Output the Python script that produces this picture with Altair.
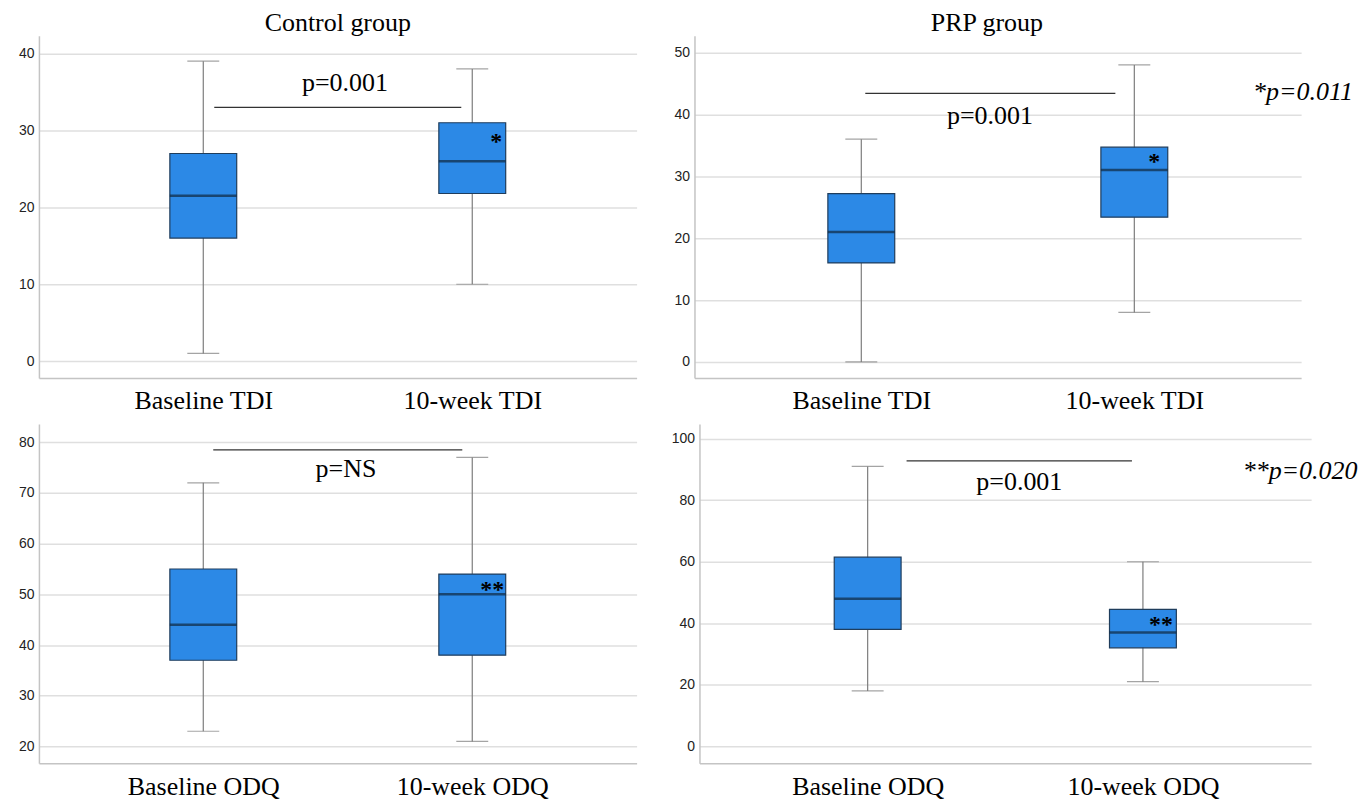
import altair as alt
import pandas as pd

# ---------------- data ----------------
CTRL_TDI_CATS = ["Baseline TDI", "10-week TDI"]
CTRL_TDI_MIN = [1, 10]
CTRL_TDI_Q1 = [16, 21.8]
CTRL_TDI_MED = [21.5, 26]
CTRL_TDI_Q3 = [27, 31]
CTRL_TDI_MAX = [39, 38]

PRP_TDI_CATS = ["Baseline TDI", "10-week TDI"]
PRP_TDI_MIN = [0, 8]
PRP_TDI_Q1 = [16, 23.4]
PRP_TDI_MED = [21, 31]
PRP_TDI_Q3 = [27.2, 34.7]
PRP_TDI_MAX = [36, 48]

CTRL_ODQ_CATS = ["Baseline ODQ", "10-week ODQ"]
CTRL_ODQ_MIN = [23, 21]
CTRL_ODQ_Q1 = [37, 38]
CTRL_ODQ_MED = [44, 50]
CTRL_ODQ_Q3 = [55, 54]
CTRL_ODQ_MAX = [72, 77]

PRP_ODQ_CATS = ["Baseline ODQ", "10-week ODQ"]
PRP_ODQ_MIN = [18, 21]
PRP_ODQ_Q1 = [38, 32]
PRP_ODQ_MED = [48, 37]
PRP_ODQ_Q3 = [61.5, 44.5]
PRP_ODQ_MAX = [91, 60]

PANEL_TITLES = ["Control group", "PRP group", "", ""]
P_LABELS = ["p=0.001", "p=0.001", "p=NS", "p=0.001"]
P_LINE_Y = [33, 43.4, 78.5, 92.8]
P_LABEL_Y = [36.1, 39.7, 74.7, 85.8]
STAR_LABELS = ["*", "*", "**", "**"]
STAR_Y = [29.1, 33.1, 51.8, 41]
SIDE_LABELS = ["", "*p=0.011", "", "**p=0.020"]
SIDE_Y = [0, 43.6, 0, 89.6]

Y_TICKS = [
    [0, 10, 20, 30, 40],
    [0, 10, 20, 30, 40, 50],
    [20, 30, 40, 50, 60, 70, 80],
    [0, 20, 40, 60, 80, 100],
]
Y_DOMAINS = [[-2.2, 42.3], [-2.6, 52.7], [16.7, 83.6], [-5.5, 104.8]]

# ---------------- styling ----------------
SERIF = "Liberation Serif"
SANS = "Liberation Sans"
BOX_FILL = "#2c89e6"
BOX_STROKE = "#1f3d5c"
MEDIAN = "#10283f"
WHISKER = "#7d7d7d"
AXIS_LINE = "#c4c4c4"
GRID = "#dfdfdf"

# per panel layout: width, height, y-axis extent, pline offsets, text dx, title dx
LAYOUT = [
    dict(w=599, h=343, ext=26, xo=11, x2o=-11, pdx=142, sdx=24, sidedx=0, tdx=0),
    dict(w=608, h=343, ext=24, xo=4, x2o=-19, pdx=129, sdx=20, sidedx=119, tdx=-11),
    dict(w=599, h=340, ext=26, xo=10, x2o=-10, pdx=143, sdx=20, sidedx=0, tdx=0),
    dict(w=613, h=340, ext=23, xo=39, x2o=-11, pdx=152, sdx=18, sidedx=100, tdx=0),
]


def panel(i, cats, mn, q1, med, q3, mx):
    L = LAYOUT[i]
    df = pd.DataFrame({"cat": cats, "mn": mn, "q1": q1, "med": med, "q3": q3, "mx": mx})
    xscale = alt.Scale(type="point", padding=0.611, domain=cats)
    xaxis = alt.Axis(title=None, labelAngle=0, labelFont=SERIF, labelFontSize=26,
                     labelColor="black", labelPadding=10, ticks=False, domainColor=AXIS_LINE,
                     domainWidth=1.5, grid=False)
    yscale = alt.Scale(domain=Y_DOMAINS[i], nice=False, zero=False)
    yaxis = alt.Axis(title=None, values=Y_TICKS[i], labelFont=SANS, labelFontSize=14,
                     labelColor="#222222", ticks=False, tickSize=0, labelPadding=5,
                     domainColor=AXIS_LINE, domainWidth=1.5, gridColor=GRID, gridWidth=1.5,
                     minExtent=L["ext"], maxExtent=L["ext"])

    def X(f):
        return alt.X(f, scale=xscale, axis=xaxis)

    def Y(f):
        return alt.Y(f, scale=yscale, axis=yaxis)

    base = alt.Chart(df)
    whisk = base.mark_rule(color=WHISKER, strokeWidth=1.2).encode(
        x=X("cat:N"), y=Y("mn:Q"), y2="mx:Q")
    cap_lo = base.mark_tick(size=32, thickness=1.2, color=WHISKER).encode(
        x=X("cat:N"), y=Y("mn:Q"))
    cap_hi = base.mark_tick(size=32, thickness=1.2, color=WHISKER).encode(
        x=X("cat:N"), y=Y("mx:Q"))
    box = base.mark_bar(size=67, fill=BOX_FILL, stroke=BOX_STROKE, strokeWidth=1.2).encode(
        x=X("cat:N"), y=Y("q1:Q"), y2="q3:Q")
    medl = base.mark_tick(size=67, thickness=2.5, color=MEDIAN).encode(
        x=X("cat:N"), y=Y("med:Q"))

    ann = pd.DataFrame({
        "a": [cats[0]], "b": [cats[1]],
        "ly": [P_LINE_Y[i]], "ty": [P_LABEL_Y[i]], "plab": [P_LABELS[i]],
        "sy": [STAR_Y[i]], "slab": [STAR_LABELS[i]],
        "sidey": [SIDE_Y[i]], "sidelab": [SIDE_LABELS[i]],
    })
    abase = alt.Chart(ann)
    pline = abase.mark_rule(color="#333333", strokeWidth=1.3, xOffset=L["xo"],
                            x2Offset=L["x2o"]).encode(
        x=X("a:N"), x2="b:N", y=Y("ly:Q"))
    ptext = abase.mark_text(font=SERIF, fontSize=26, color="black", baseline="middle",
                            align="center", dx=L["pdx"]).encode(
        x=X("a:N"), y=Y("ty:Q"), text="plab:N")
    star = abase.mark_text(font=SERIF, fontSize=24, fontWeight="bold", color="black",
                           baseline="middle", align="center", dx=L["sdx"], dy=5).encode(
        x=X("b:N"), y=Y("sy:Q"), text="slab:N")
    layers = [whisk, cap_lo, cap_hi, box, medl, pline, ptext, star]
    if SIDE_LABELS[i]:
        side = abase.mark_text(font=SERIF, fontSize=26, fontStyle="italic", color="black",
                               baseline="middle", align="left", dx=L["sidedx"]).encode(
            x=X("b:N"), y=Y("sidey:Q"), text="sidelab:N")
        layers.append(side)
    ch = alt.layer(*layers).properties(width=L["w"], height=L["h"])
    if PANEL_TITLES[i]:
        ch = ch.properties(title=alt.TitleParams(PANEL_TITLES[i], font=SERIF, fontSize=26,
                                                 fontWeight="normal", color="black",
                                                 anchor="middle", offset=0, dx=L["tdx"]))
    return ch


p1 = panel(0, CTRL_TDI_CATS, CTRL_TDI_MIN, CTRL_TDI_Q1, CTRL_TDI_MED, CTRL_TDI_Q3, CTRL_TDI_MAX)
p2 = panel(1, PRP_TDI_CATS, PRP_TDI_MIN, PRP_TDI_Q1, PRP_TDI_MED, PRP_TDI_Q3, PRP_TDI_MAX)
p3 = panel(2, CTRL_ODQ_CATS, CTRL_ODQ_MIN, CTRL_ODQ_Q1, CTRL_ODQ_MED, CTRL_ODQ_Q3, CTRL_ODQ_MAX)
p4 = panel(3, PRP_ODQ_CATS, PRP_ODQ_MIN, PRP_ODQ_Q1, PRP_ODQ_MED, PRP_ODQ_Q3, PRP_ODQ_MAX)

chart = alt.vconcat(
    alt.hconcat(p1, p2, spacing=34),
    alt.hconcat(p3, p4, spacing=34),
    spacing=10,
).configure_view(stroke=None).properties(
    background="white",
    padding={"left": 5, "top": 1, "right": 5, "bottom": 5},
)

chart.save("out.html", embed_options={"renderer": "svg", "actions": False})
